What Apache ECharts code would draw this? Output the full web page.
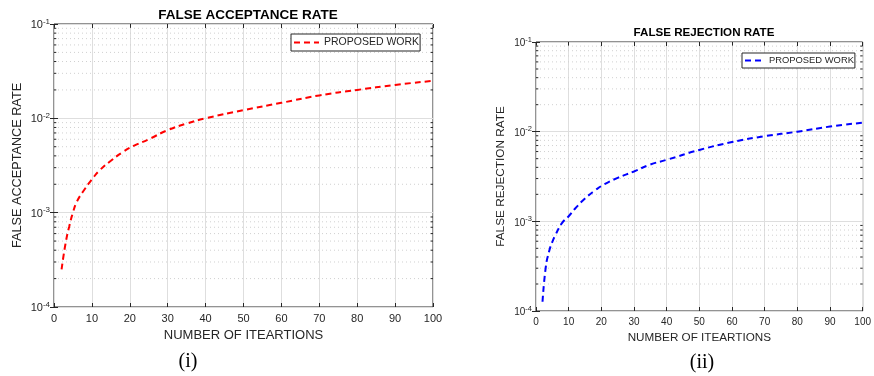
<!DOCTYPE html>
<html>
<head>
<meta charset="utf-8">
<script src="https://cdn.jsdelivr.net/npm/echarts@6/dist/echarts.min.js"></script>
<style>
html,body{margin:0;padding:0;background:#fff;}
#chart{width:874px;height:376px;}
</style>
</head>
<body>
<div id="chart"></div>
<script>
// ---- data ----
const farIterations = [2, 3, 4, 5, 6, 8, 10, 12, 15, 18, 21, 25, 30, 35, 40, 50, 60, 70, 80, 90, 100];
const farValues = [2.5e-4, 4.6e-4, 7.1e-4, 1.0e-3, 1.3e-3, 1.75e-3, 2.25e-3, 2.8e-3, 3.55e-3, 4.35e-3, 5.1e-3, 6.0e-3, 7.5e-3, 8.8e-3, 1.0e-2, 1.22e-2, 1.46e-2, 1.75e-2, 2.0e-2, 2.26e-2, 2.5e-2];
const frrIterations = [2, 3, 4, 5, 6, 8, 10, 12, 15, 18, 21, 25, 30, 35, 40, 50, 60, 70, 80, 90, 100];
const frrValues = [1.27e-4, 3.1e-4, 4.6e-4, 5.9e-4, 7.1e-4, 9.6e-4, 1.14e-3, 1.39e-3, 1.8e-3, 2.2e-3, 2.6e-3, 3.05e-3, 3.6e-3, 4.3e-3, 4.85e-3, 6.25e-3, 7.65e-3, 8.9e-3, 1.0e-2, 1.14e-2, 1.26e-2];
const seriesLabel = 'PROPOSED WORK';
const titles = ['FALSE ACCEPTANCE RATE', 'FALSE REJECTION RATE'];
const yNames = ['FALSE ACCEPTANCE RATE', 'FALSE REJECTION RATE'];
const xName = 'NUMBER OF ITEARTIONS';
const panelTags = ['(i)', '(ii)'];
const xMin = 0, xMax = 100, xStep = 10;
const yMin = 1e-4, yMax = 1e-1;

// minor (dotted) grid values: 2..9 x each decade
const minorGrid = [];
for (let e = -4; e < -1; e++) for (let m = 2; m <= 9; m++) minorGrid.push(+(m * Math.pow(10, e)).toPrecision(3));

const FONT = "'Liberation Sans', Arial, Helvetica, sans-serif";
const TXT = '#262626';
const GRID = '#dedede';

function pairs(xs, ys) { return xs.map((x, i) => [x, ys[i]]); }

function yLabel(fs, sfs, raise) {
  return {
    margin: 4,
    formatter: v => '{b|10}{s|' + Math.round(Math.log10(v)) + '}',
    rich: {
      b: { fontSize: fs, fontFamily: FONT, color: TXT, verticalAlign: 'bottom' },
      s: { fontSize: sfs, fontFamily: FONT, color: TXT, verticalAlign: 'bottom', padding: [0, 0, raise, 0] }
    }
  };
}

function mainX(g, fs, nfs, gap) {
  return {
    gridIndex: g, type: 'value', min: xMin, max: xMax, interval: xStep,
    axisLine: { show: false },
    axisTick: { show: true, inside: true, length: 4, lineStyle: { color: TXT } },
    axisLabel: { fontSize: fs, fontFamily: FONT, color: TXT, margin: 6 },
    splitLine: { show: true, lineStyle: { color: GRID, width: 1 } },
    name: xName, nameLocation: 'middle', nameGap: gap,
    nameTextStyle: { fontSize: nfs, fontFamily: FONT, color: TXT }
  };
}
function topX(g) {
  return {
    gridIndex: g, type: 'value', min: xMin, max: xMax, interval: xStep, position: 'top',
    axisLine: { show: false }, axisLabel: { show: false }, splitLine: { show: false },
    axisTick: { show: true, inside: true, length: 4, lineStyle: { color: TXT } }
  };
}
function mainY(g, name, fs, sfs, raise, nfs, gap) {
  return {
    gridIndex: g, type: 'log', logBase: 10, min: yMin, max: yMax,
    axisLine: { show: false },
    axisTick: { show: true, inside: true, length: 4, lineStyle: { color: TXT } },
    splitLine: { show: true, lineStyle: { color: GRID, width: 1 } },
    axisLabel: yLabel(fs, sfs, raise),
    name: name, nameLocation: 'middle', nameGap: gap,
    nameTextStyle: { fontSize: nfs, fontFamily: FONT, color: TXT }
  };
}
function rightY(g) {
  return {
    gridIndex: g, type: 'log', logBase: 10, min: yMin, max: yMax, position: 'right',
    axisLine: { show: false }, axisLabel: { show: false }, splitLine: { show: false },
    axisTick: { show: true, inside: true, length: 4, lineStyle: { color: TXT } }
  };
}
// dotted minor grid lines across the plot
function minorSeries(xi, yi) {
  return minorGrid.map(v => ({
    type: 'line', xAxisIndex: xi, yAxisIndex: yi, silent: true, z: 1,
    data: [[xMin, v], [xMax, v]], symbol: 'none', showSymbol: false,
    lineStyle: { type: [1, 3], color: '#d0d0d0', width: 1 },
    emphasis: { disabled: true }, tooltip: { show: false }
  }));
}
// short minor tick marks on left and right box edges (length given in x units)
function minorTickSeries(xi, yi, len) {
  const out = [];
  minorGrid.forEach(v => {
    [[xMin, xMin + len], [xMax - len, xMax]].forEach(seg => {
      out.push({
        type: 'line', xAxisIndex: xi, yAxisIndex: yi, silent: true, z: 3,
        data: [[seg[0], v], [seg[1], v]], symbol: 'none', showSymbol: false,
        lineStyle: { type: 'solid', color: TXT, width: 1 },
        emphasis: { disabled: true }, tooltip: { show: false }
      });
    });
  });
  return out;
}
function legend(name, left, top, fs, iw, pad) {
  return {
    data: [name], left: left, top: top, orient: 'vertical',
    backgroundColor: '#fff', borderColor: TXT, borderWidth: 1, borderRadius: 0,
    padding: pad, itemWidth: iw, itemHeight: 8, selectedMode: false,
    itemStyle: { opacity: 0 },
    formatter: () => seriesLabel,
    textStyle: { fontSize: fs, fontFamily: FONT, color: TXT }
  };
}

const chart = echarts.init(document.getElementById('chart'), null, { renderer: 'canvas' });
chart.setOption({
  animation: false,
  backgroundColor: '#fff',
  title: [
    { text: titles[0], left: 248, top: 8, textAlign: 'center', padding: 0,
      textStyle: { fontSize: 13.5, fontWeight: 'bold', fontFamily: FONT, color: '#000' } },
    { text: titles[1], left: 704, top: 27, textAlign: 'center', padding: 0,
      textStyle: { fontSize: 11.6, fontWeight: 'bold', fontFamily: FONT, color: '#000' } },
    { text: panelTags[0], left: 188, top: 352, textAlign: 'center', padding: 0,
      textStyle: { fontSize: 20, fontWeight: 'normal', fontFamily: "'Liberation Serif', 'Times New Roman', serif", color: '#000' } },
    { text: panelTags[1], left: 702, top: 353, textAlign: 'center', padding: 0,
      textStyle: { fontSize: 20, fontWeight: 'normal', fontFamily: "'Liberation Serif', 'Times New Roman', serif", color: '#000' } }
  ],
  legend: [
    legend('FAR', 291, 34, 10.5, 25, [3, 1, 3, 2]),
    legend('FRR', 742, 53, 9.4, 19, [3, 1, 3, 2])
  ],
  grid: [
    { left: 54, top: 24, width: 379, height: 283, show: true, borderColor: TXT, borderWidth: 1, backgroundColor: '#fff' },
    { left: 536, top: 42, width: 329, height: 269, show: true, borderColor: TXT, borderWidth: 1, backgroundColor: '#fff' }
  ],
  xAxis: [mainX(0, 11, 13, 22), topX(0), mainX(1, 10, 11.7, 21), topX(1)],
  yAxis: [mainY(0, yNames[0], 11, 8, 5, 12.7, 30), rightY(0), mainY(1, yNames[1], 10, 7.5, 5, 11.8, 29), rightY(1)],
  series: [].concat(
    minorSeries(0, 0),
    minorSeries(2, 2),
    minorTickSeries(0, 0, 0.6),
    minorTickSeries(2, 2, 0.7),
    [
      { type: 'line', name: 'FAR', xAxisIndex: 0, yAxisIndex: 0, data: pairs(farIterations, farValues),
        smooth: true, symbol: 'none', showSymbol: false, z: 5,
        lineStyle: { color: '#ff0000', width: 2, type: [6, 4] }, itemStyle: { color: '#ff0000' } },
      { type: 'line', name: 'FRR', xAxisIndex: 2, yAxisIndex: 2, data: pairs(frrIterations, frrValues),
        smooth: true, symbol: 'none', showSymbol: false, z: 5,
        lineStyle: { color: '#0000ff', width: 2, type: [6, 4] }, itemStyle: { color: '#0000ff' } }
    ]
  )
});
</script>
</body>
</html>
